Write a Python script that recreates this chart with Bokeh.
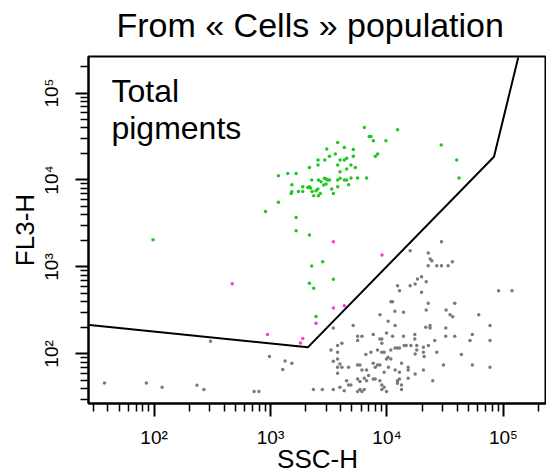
import numpy as np
from bokeh.plotting import figure
from bokeh.models import FixedTicker, Label, Title
from bokeh.embed import file_html
from bokeh.resources import INLINE

FONT = "Liberation Sans"

# values, stored as log10 (decades)
green_ssc_log = [3.806, 4.091, 3.848, 3.863, 3.883, 3.991, 3.577, 3.634, 3.483, 3.711,
                 3.557, 3.506, 3.711, 3.920, 3.900, 3.654, 3.634, 3.597, 3.408, 3.466,
                 3.577, 3.408, 3.691, 3.728, 3.334, 3.654, 3.597, 3.068, 3.148, 3.220,
                 3.463, 3.477, 3.491, 3.506, 3.411, 3.434, 3.354, 3.597, 3.577, 3.634,
                 3.691, 3.748, 3.825, 3.654, 3.477, 3.457, 3.671, 3.183, 3.277, 3.334,
                 3.343, 3.320, 3.577, 3.526, 3.406, 3.391, 3.183, 3.177, 3.240, 3.277,
                 3.357, 3.428, 3.411, 3.371, 3.540, 3.068, 2.957, 3.220,
                 4.466, 4.599, 4.619, 1.991,
                 3.220, 3.334, 3.448, 3.354, 3.540, 3.334, 3.371, 3.391]
green_fl3_log = [4.605, 4.578, 4.501, 4.501, 4.452, 4.452, 4.432, 4.375, 4.356, 4.352,
                 4.298, 4.272, 4.272, 4.298, 4.272, 4.249, 4.229, 4.229, 4.229, 4.229,
                 4.172, 4.172, 4.172, 4.145, 4.145, 4.126, 4.095, 4.049, 4.076, 4.076,
                 4.019, 4.011, 4.000, 4.000, 4.000, 3.980, 4.000, 4.019, 4.000, 4.000,
                 4.023, 4.023, 4.023, 4.000, 3.954, 3.942, 3.946, 3.946, 3.923, 3.923,
                 3.908, 3.915, 3.923, 3.896, 3.896, 3.877, 3.865, 3.846, 3.869, 3.869,
                 3.869, 3.846, 3.819, 3.819, 3.846, 3.743, 3.639, 3.570,
                 4.402, 4.230, 4.023, 3.314,
                 3.417, 3.367, 3.061, 3.011, 2.858, 2.812, 2.754, 2.429]

magenta_ssc_log = [3.540, 3.957, 3.540, 3.634, 3.391, 2.974, 3.277, 3.257, 2.671]
magenta_fl3_log = [3.291, 3.137, 2.528, 2.555, 2.352, 2.222, 2.176, 2.126, 2.808]

gray_ssc_log = [4.468, 4.199, 4.354, 4.371, 4.385, 4.354, 4.428, 4.468, 4.525, 4.562,
                4.262, 4.297, 4.337, 4.199, 4.242, 4.091, 4.108, 4.297, 4.959, 5.074,
                4.034, 4.048, 4.354, 4.582, 3.940, 4.068, 4.142, 4.337, 4.508, 4.542,
                4.565, 4.788,
                3.710, 3.539, 4.010, 4.070, 4.333, 4.370, 4.370, 4.505, 4.885,
                3.785, 3.748, 3.748, 3.882, 3.939, 3.956, 3.956, 3.996, 4.048, 4.142,
                4.239, 4.239, 4.410, 4.505, 4.582, 4.733, 4.713, 4.885,
                3.576, 3.613, 3.519, 3.576, 3.819, 3.862, 3.919, 3.956, 3.976, 4.033,
                4.070, 4.090, 4.107, 4.148, 4.165, 4.205, 4.256, 4.256, 4.242, 4.313,
                4.313, 4.319, 4.356, 4.428, 4.639,
                3.539, 3.576, 3.596, 3.576, 3.613, 3.670, 3.576, 3.748, 3.768, 3.785,
                3.825, 3.882, 3.899, 3.919, 3.939, 3.976, 3.996, 4.010, 4.033, 4.013,
                4.070, 4.125, 4.107, 4.182, 4.182, 4.242, 4.313, 4.485, 4.733, 4.885,
                3.653, 3.690, 3.670, 3.748, 3.768, 3.805, 3.825, 3.842, 3.882, 3.899,
                3.939, 3.956, 3.976, 3.996, 4.090, 4.090, 4.107, 4.125, 4.182, 4.393,
                3.368, 3.445, 3.539, 3.596, 3.633, 3.748, 3.768, 3.785, 3.805, 3.956,
                4.125,
                2.485, 2.991, 3.125, 3.183, 3.105, 1.574, 1.934, 2.069, 2.368, 2.428,
                2.859, 2.900]
gray_fl3_log = [3.291, 3.187, 3.160, 3.091, 3.072, 3.015, 3.015, 3.015, 3.015, 3.061,
                2.861, 2.888, 2.831, 2.785, 2.804, 2.785, 2.727, 2.708, 2.727, 2.727,
                2.601, 2.601, 2.582, 2.582, 2.451, 2.490, 2.478, 2.505, 2.505, 2.451,
                2.428, 2.451,
                2.326, 2.299, 2.375, 2.326, 2.306, 2.326, 2.299, 2.299, 2.326,
                2.203, 2.203, 2.153, 2.222, 2.172, 2.172, 2.122, 2.241, 2.203, 2.203,
                2.222, 2.172, 2.153, 2.203, 2.203, 2.222, 2.153, 2.153,
                2.096, 2.122, 2.046, 2.019, 1.992, 2.019, 2.046, 2.019, 2.019, 2.046,
                2.069, 2.069, 2.069, 2.096, 2.096, 2.096, 2.096, 2.046, 2.000, 2.076,
                2.019, 1.969, 2.096, 2.019, 1.992,
                1.916, 1.942, 1.885, 1.847, 1.847, 1.847, 1.778, 1.873, 1.873, 1.816,
                1.816, 1.893, 1.847, 1.873, 1.873, 1.789, 1.942, 1.962, 1.942, 1.847,
                1.816, 1.893, 1.789, 1.847, 1.816, 1.770, 1.816, 1.873, 1.873, 1.847,
                1.693, 1.644, 1.644, 1.713, 1.682, 1.720, 1.693, 1.751, 1.713, 1.713,
                1.693, 1.644, 1.617, 1.567, 1.663, 1.693, 1.713, 1.644, 1.720, 1.693,
                1.590, 1.590, 1.590, 1.617, 1.578, 1.567, 1.590, 1.567, 1.590, 1.590,
                1.590,
                2.145, 1.969, 1.920, 1.892, 1.820, 1.667, 1.667, 1.616, 1.639, 1.590,
                1.567, 1.567]

gate_ssc = [28, 2090, 83000, 134000]
gate_fl3 = [215, 119, 18500, 256000]

x_range_log = (1.437, 5.37)
y_range_log = (1.43, 5.42)

major_ticks = [100, 1000, 10000, 100000]
tick_labels = {100: "10²", 1000: "10³", 10000: "10⁴", 100000: "10⁵"}
title_text = "From « Cells » population"

def minor_ticks(lo, hi):
    out = []
    for e in range(1, 6):
        for k in range(2, 10):
            v = k * 10 ** e
            if 10 ** lo <= v <= 10 ** hi:
                out.append(v)
    return out

p = figure(frame_width=458, frame_height=347,
           x_axis_type="log", y_axis_type="log",
           x_range=(10 ** x_range_log[0], 10 ** x_range_log[1]),
           y_range=(10 ** y_range_log[0], 10 ** y_range_log[1]),
           min_border_left=88, min_border_right=0, min_border_top=56, min_border_bottom=0,
           output_backend="svg", toolbar_location=None)

# title: a thin spacer panel next to the frame, then the title panel on top
p.title.text = title_text
p.title.text_font = FONT
p.title.text_font_size = "34px"
p.title.text_font_style = "normal"
p.title.text_color = "black"
p.title.align = "left"
p.title.offset = 28
p.title.vertical_align = "top"
p.title.standoff = 8
p.add_layout(Title(text=" ", text_font_size="1px", standoff=4), "above")

p.xgrid.visible = False
p.ygrid.visible = False
p.outline_line_color = "black"
p.outline_line_width = 2
p.background_fill_color = "white"
p.border_fill_color = "white"

for ax, lo, hi in ((p.xaxis[0], *x_range_log), (p.yaxis[0], *y_range_log)):
    ax.ticker = FixedTicker(ticks=major_ticks, minor_ticks=minor_ticks(lo, hi))
    ax.major_label_overrides = tick_labels
    ax.major_tick_in = 0
    ax.major_tick_out = 13
    ax.minor_tick_in = 0
    ax.minor_tick_out = 8
    ax.axis_line_width = 2
    ax.major_tick_line_width = 2
    ax.minor_tick_line_width = 1.5
    ax.major_label_text_font = FONT
    ax.major_label_text_font_size = "19px"
    ax.major_label_text_color = "black"
    ax.axis_label_text_font = FONT
    ax.axis_label_text_font_size = "26px"
    ax.axis_label_text_font_style = "normal"
    ax.axis_label_text_color = "black"

p.xaxis.axis_label = "SSC-H"
p.yaxis.axis_label = "FL3-H"
p.xaxis.major_label_standoff = 10
p.yaxis.major_label_standoff = 13
p.xaxis.axis_label_standoff = -7
p.yaxis.axis_label_standoff = -1
p.yaxis.major_label_orientation = "vertical"

p.scatter(10 ** np.array(gray_ssc_log), 10 ** np.array(gray_fl3_log),
          size=3.5, color="#7a7a7a", line_color=None)
p.scatter(10 ** np.array(green_ssc_log), 10 ** np.array(green_fl3_log),
          size=3.5, color="#1ec81e", line_color=None)
p.scatter(10 ** np.array(magenta_ssc_log), 10 ** np.array(magenta_fl3_log),
          size=3.5, color="#ff3cc8", line_color=None)

p.line(gate_ssc, gate_fl3, line_color="black", line_width=2)

p.add_layout(Label(x=10 ** 1.634, y=10 ** 5.018, text="Total",
                   text_font=FONT, text_font_size="32px", text_color="black",
                   text_baseline="alphabetic"))
p.add_layout(Label(x=10 ** 1.634, y=10 ** 4.593, text="pigments",
                   text_font=FONT, text_font_size="32px", text_color="black",
                   text_baseline="alphabetic"))

open("out.html", "w").write(file_html(p, INLINE))
